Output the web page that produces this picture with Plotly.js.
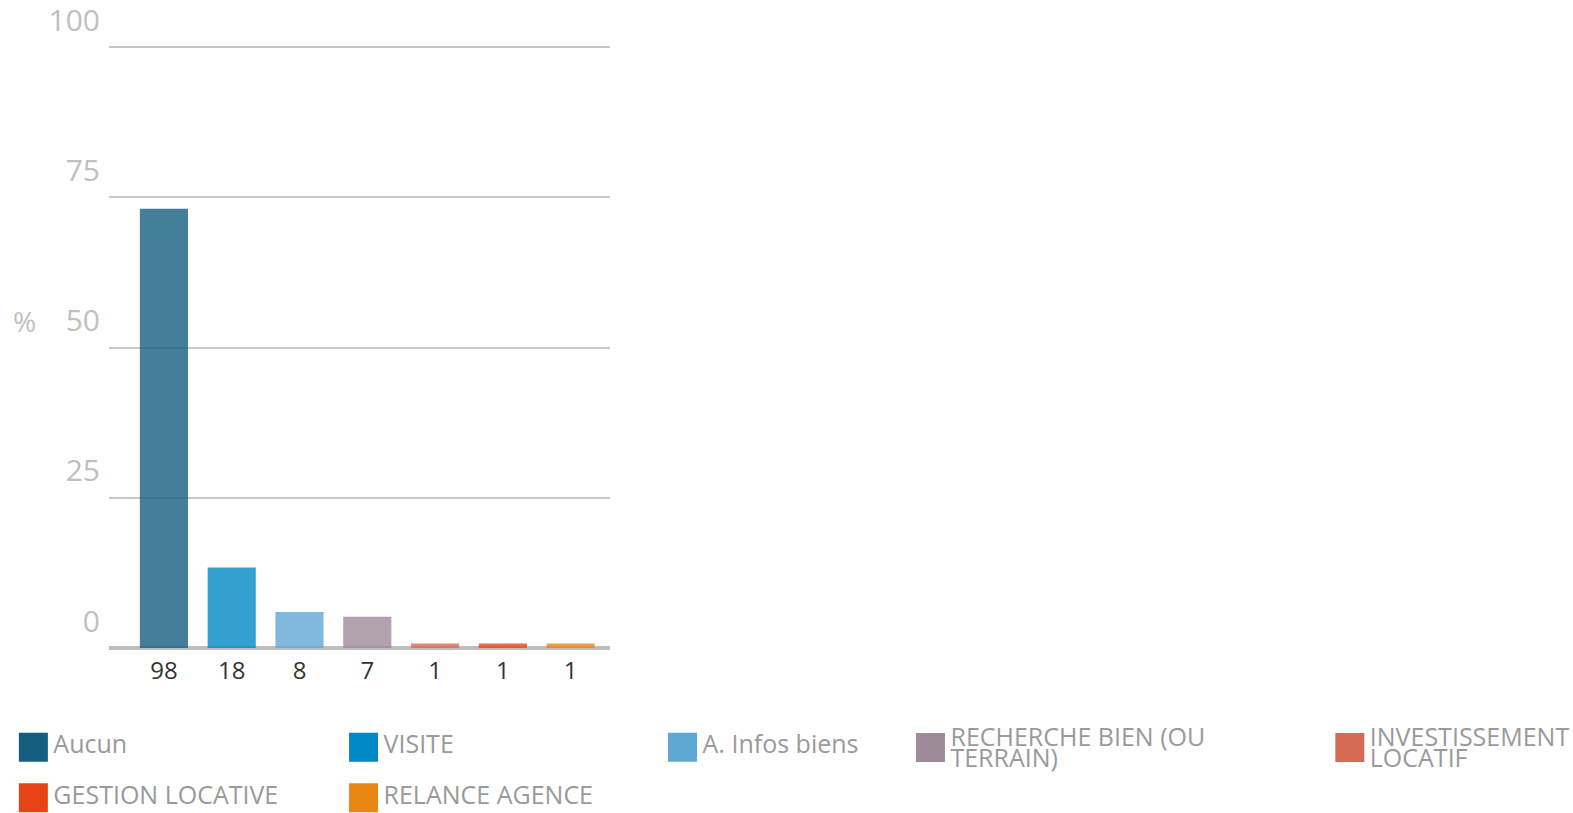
<!DOCTYPE html>
<html>
<head>
<meta charset="utf-8">
<script src="https://cdn.plot.ly/plotly-3.0.1.min.js"></script>
<style>
  html, body { margin: 0; padding: 0; background: #fff; }
  #chart { width: 1573px; height: 813px; }
</style>
</head>
<body>
<div id="chart"></div>
<script>
// ---- data ----
const categories = ['Aucun', 'VISITE', 'A. Infos biens', 'RECHERCHE BIEN (OU TERRAIN)', 'INVESTISSEMENT LOCATIF', 'GESTION LOCATIVE', 'RELANCE AGENCE'];
const legendLabels = ['Aucun', 'VISITE', 'A. Infos biens', 'RECHERCHE BIEN (OU<br>TERRAIN)', 'INVESTISSEMENT<br>LOCATIF', 'GESTION LOCATIVE', 'RELANCE AGENCE'];
const counts = [98, 18, 8, 7, 1, 1, 1];
const percents = [73.1, 13.4, 6.0, 5.2, 0.75, 0.75, 0.75];
const colors = ['#145f80', '#0088c6', '#5fa8d3', '#9d8b99', '#d66b55', '#e84315', '#e88513'];
const yTicks = [0, 25, 50, 75, 100];

// legend placement (container fractions)
const legendX = [0.0085, 0.2184, 0.4212, 0.5788, 0.8454, 0.0085, 0.2184];
const legendY = [0.0806, 0.0806, 0.0806, 0.0806, 0.0806, 0.0184, 0.0184];

const traces = categories.map((c, i) => ({
  type: 'bar',
  name: legendLabels[i],
  x: [i],
  y: [percents[i]],
  width: 0.71,
  marker: { color: colors[i], opacity: 0.8, line: { width: 0 } },
  legend: i === 0 ? 'legend' : 'legend' + (i + 1),
  hovertemplate: c + ': %{y}%<extra></extra>'
}));

const layout = {
  width: 1573,
  height: 813,
  paper_bgcolor: '#ffffff',
  plot_bgcolor: '#ffffff',
  barmode: 'overlay',
  margin: { l: 109, r: 963, t: 44, b: 165, autoexpand: false },
  font: { family: '"Open Sans", "Noto Sans", sans-serif' },
  xaxis: {
    range: [-0.81, 6.58],
    tickvals: categories.map((c, i) => i),
    ticktext: counts.map(String),
    showgrid: false,
    zeroline: false,
    showline: false,
    ticks: '',
    ticklabelstandoff: 6,
    tickfont: { size: 24, color: '#333333' },
    fixedrange: true
  },
  yaxis: {
    range: [0, 100.5],
    tickvals: yTicks,
    ticktext: yTicks.map(String),
    showgrid: true,
    gridcolor: '#c8c8c8',
    gridwidth: 2,
    zeroline: true,
    zerolinecolor: '#bdbdbd',
    zerolinewidth: 4,
    showline: false,
    ticks: '',
    ticklabelshift: -27,
    ticklabelstandoff: 8,
    ticklabeloverflow: 'allow',
    tickfont: { size: 30, color: '#c0c0c0' },
    fixedrange: true
  },
  annotations: [{
    text: '%',
    xref: 'paper', yref: 'y',
    x: -0.168, y: 50, yshift: 27,
    xanchor: 'center', yanchor: 'middle',
    showarrow: false,
    font: { size: 28, color: '#c0c0c0' }
  }],
  showlegend: true
};

const legendFont = { size: 25, color: '#9a9a9a', family: '"Open Sans", "Noto Sans", sans-serif' };
categories.forEach((c, i) => {
  const key = i === 0 ? 'legend' : 'legend' + (i + 1);
  layout[key] = {
    x: legendX[i], y: legendY[i],
    xref: 'container', yref: 'container',
    xanchor: 'left', yanchor: 'middle',
    orientation: 'h',
    bgcolor: 'rgba(0,0,0,0)',
    borderwidth: 0,
    font: legendFont,
    itemclick: false,
    itemdoubleclick: false
  };
});

function norm(s) { return String(s).replace(/<br>/g, '').replace(/\s+/g, ''); }

const SWATCH = 'M14.5,14.5H-14.5V-14.5H14.5Z';
function setAttr(el, name, val) {
  val = String(val);
  if (el.getAttribute(name) !== val) el.setAttribute(name, val);
}

function styleText(t) {
  const key = norm(t.textContent);
  const idx = categories.findIndex(c => norm(c) === key);
  if (idx < 0) return;
  const baseX = 40;
  const lines = t.querySelectorAll('tspan.line');
  if (lines.length > 1) {
    const y0 = -1;
    const dy = 21;
    setAttr(t, 'x', baseX);
    setAttr(t, 'y', y0);
    lines.forEach((ln, k) => {
      setAttr(ln, 'x', baseX);
      setAttr(ln, 'y', y0);
      setAttr(ln, 'dy', k === 0 ? 0 : dy);
    });
  } else {
    setAttr(t, 'x', baseX);
    setAttr(t, 'y', 6);
  }
}

function styleLegend() {
  const gd = document.getElementById('chart');
  gd.querySelectorAll('.legendpoints path').forEach(p => {
    setAttr(p, 'd', SWATCH);
    p.style.opacity = 1;
    p.style.fillOpacity = 1;
    let g = p.parentNode;
    while (g && g !== gd && !(g.classList && g.classList.contains('traces'))) g = g.parentNode;
    if (g && g !== gd) {
      Array.from(g.children).filter(ch => ch.tagName.toLowerCase() === 'text').forEach(styleText);
    }
  });
  gd.querySelectorAll('text.legendtext').forEach(styleText);
}

const gdEl = document.getElementById('chart');
const observer = new MutationObserver(() => { try { styleLegend(); } catch (e) {} });
observer.observe(gdEl, { childList: true, subtree: true, attributes: true, attributeFilter: ['x', 'y', 'dy', 'd', 'transform'] });

Plotly.newPlot(gdEl, traces, layout, { displayModeBar: false, staticPlot: true }).then(() => {
  styleLegend();
  gdEl.on('plotly_afterplot', styleLegend);
});
setInterval(() => { try { styleLegend(); } catch (e) {} }, 15);
</script>
</body>
</html>
